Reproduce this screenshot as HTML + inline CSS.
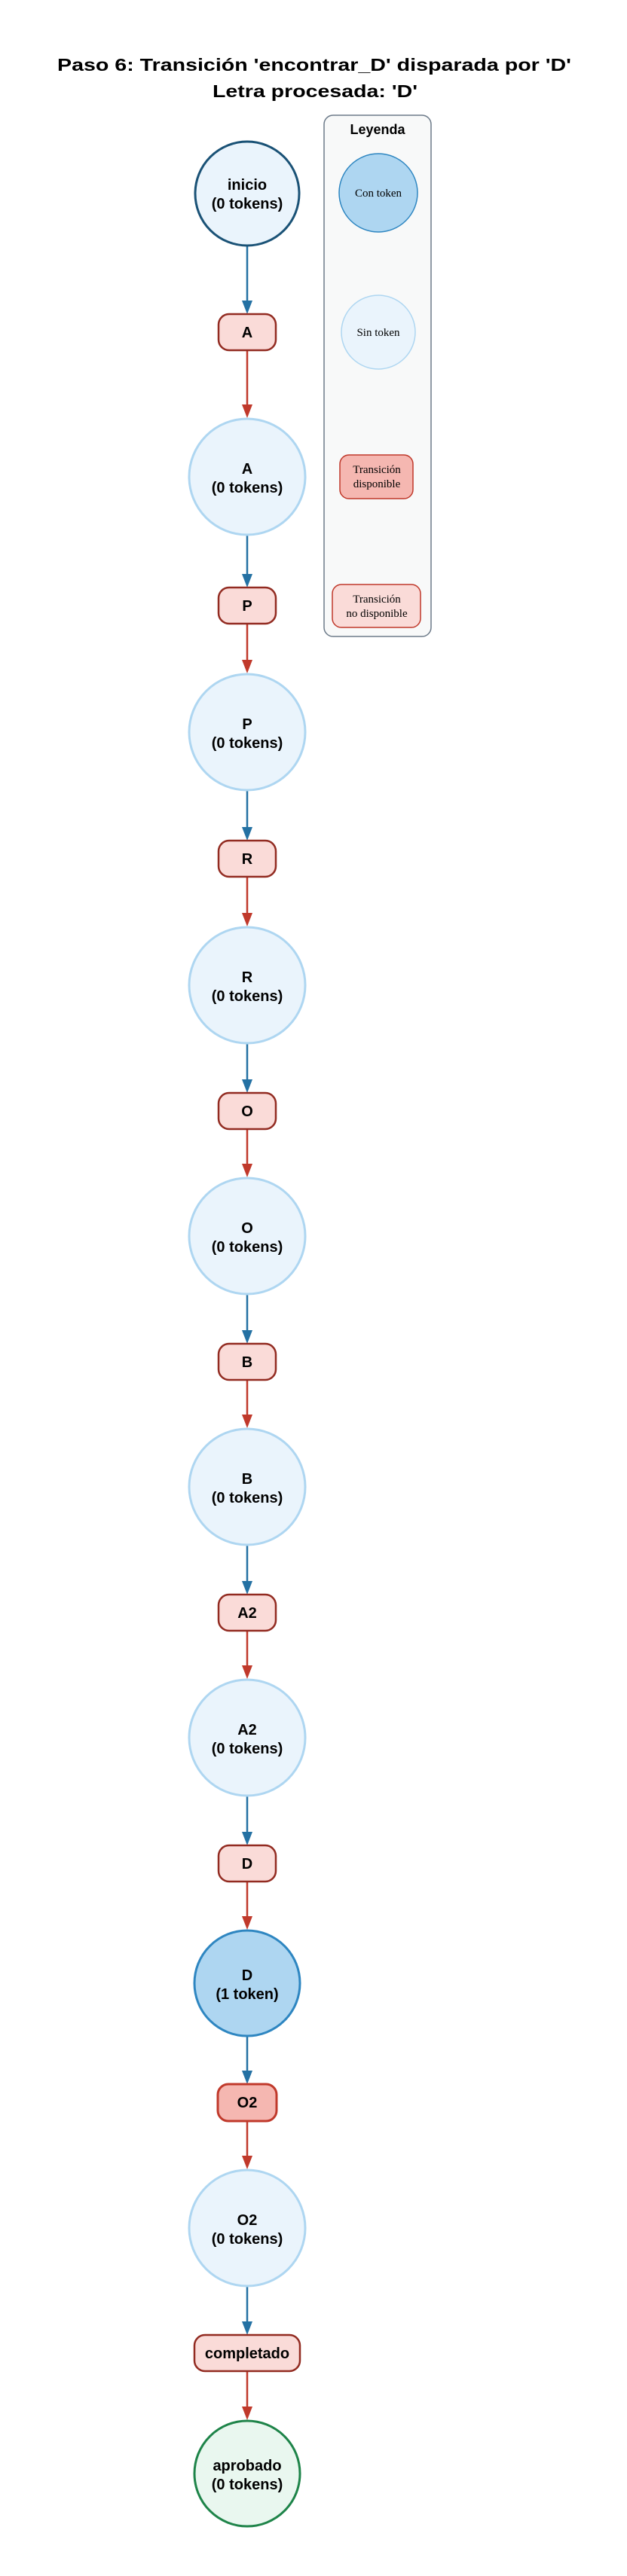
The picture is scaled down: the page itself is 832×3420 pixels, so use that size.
<!DOCTYPE html>
<html><head><meta charset="utf-8"><style>
html,body{margin:0;padding:0;background:#fff;}
svg{display:block;}
.t{font-family:"Liberation Sans",Arial,sans-serif;font-weight:bold;fill:#000;text-anchor:middle;}
.s{font-family:"Liberation Serif","Times New Roman",serif;fill:#000;text-anchor:middle;font-size:15px;}
</style></head><body>
<svg width="832" height="3420" viewBox="0 0 832 3420" xmlns="http://www.w3.org/2000/svg">
<defs>
<marker id="mb" markerWidth="10" markerHeight="10" refX="10" refY="5" orient="auto" markerUnits="userSpaceOnUse" viewBox="0 0 10 10"><path d="M0,0 L10,5 L0,10 z" fill="#2471a3"/></marker>
</defs>
<text class="t" x="417" y="94" font-size="23" textLength="682" lengthAdjust="spacingAndGlyphs">Paso 6: Transición 'encontrar_D' disparada por 'D'</text>
<text class="t" x="418" y="129" font-size="23" textLength="272" lengthAdjust="spacingAndGlyphs">Letra procesada: 'D'</text>

<!-- legend -->
<rect x="430" y="153" width="142" height="692" rx="12" fill="#f8f9f9" stroke="#6c7a89" stroke-width="1.5"/>
<text class="t" x="501" y="178" font-size="18">Leyenda</text>
<circle cx="502" cy="256" r="52" fill="#aed6f1" stroke="#2e86c1" stroke-width="1.5"/>
<text class="s" x="502" y="261">Con token</text>
<circle cx="502" cy="441" r="49" fill="#eaf4fc" stroke="#aed6f1" stroke-width="1.5"/>
<text class="s" x="502" y="446">Sin token</text>
<rect x="451" y="604" width="97" height="58" rx="12" fill="#f5b7b1" stroke="#c0392b" stroke-width="1.5"/>
<text class="s" x="500" y="628">Transición</text>
<text class="s" x="500" y="647">disponible</text>
<rect x="441" y="776" width="117" height="57" rx="12" fill="#fadbd8" stroke="#c0392b" stroke-width="1.5"/>
<text class="s" x="500" y="800">Transición</text>
<text class="s" x="500" y="819">no disponible</text>

<g id="edges" stroke-width="2.5">
<!-- filled below -->
</g>

<!-- arrows -->
<g>
<line x1="328" y1="327" x2="328" y2="400" stroke="#2471a3" stroke-width="2.5"/><path d="M321,399 L335,399 L328,417 z" fill="#2471a3"/>
<line x1="328" y1="465" x2="328" y2="538" stroke="#c0392b" stroke-width="2.5"/><path d="M321,537 L335,537 L328,555 z" fill="#c0392b"/>
<line x1="328" y1="711" x2="328" y2="763" stroke="#2471a3" stroke-width="2.5"/><path d="M321,762 L335,762 L328,780 z" fill="#2471a3"/>
<line x1="328" y1="828" x2="328" y2="877" stroke="#c0392b" stroke-width="2.5"/><path d="M321,876 L335,876 L328,894 z" fill="#c0392b"/>
<line x1="328" y1="1050" x2="328" y2="1099" stroke="#2471a3" stroke-width="2.5"/><path d="M321,1098 L335,1098 L328,1116 z" fill="#2471a3"/>
<line x1="328" y1="1164" x2="328" y2="1213" stroke="#c0392b" stroke-width="2.5"/><path d="M321,1212 L335,1212 L328,1230 z" fill="#c0392b"/>
<line x1="328" y1="1386" x2="328" y2="1434" stroke="#2471a3" stroke-width="2.5"/><path d="M321,1433 L335,1433 L328,1451 z" fill="#2471a3"/>
<line x1="328" y1="1499" x2="328" y2="1546" stroke="#c0392b" stroke-width="2.5"/><path d="M321,1545 L335,1545 L328,1563 z" fill="#c0392b"/>
<line x1="328" y1="1719" x2="328" y2="1767" stroke="#2471a3" stroke-width="2.5"/><path d="M321,1766 L335,1766 L328,1784 z" fill="#2471a3"/>
<line x1="328" y1="1832" x2="328" y2="1879" stroke="#c0392b" stroke-width="2.5"/><path d="M321,1878 L335,1878 L328,1896 z" fill="#c0392b"/>
<line x1="328" y1="2052" x2="328" y2="2100" stroke="#2471a3" stroke-width="2.5"/><path d="M321,2099 L335,2099 L328,2117 z" fill="#2471a3"/>
<line x1="328" y1="2165" x2="328" y2="2212" stroke="#c0392b" stroke-width="2.5"/><path d="M321,2211 L335,2211 L328,2229 z" fill="#c0392b"/>
<line x1="328" y1="2385" x2="328" y2="2433" stroke="#2471a3" stroke-width="2.5"/><path d="M321,2432 L335,2432 L328,2450 z" fill="#2471a3"/>
<line x1="328" y1="2498" x2="328" y2="2545" stroke="#c0392b" stroke-width="2.5"/><path d="M321,2544 L335,2544 L328,2562 z" fill="#c0392b"/>
<line x1="328" y1="2703" x2="328" y2="2750" stroke="#2471a3" stroke-width="2.5"/><path d="M321,2749 L335,2749 L328,2767 z" fill="#2471a3"/>
<line x1="328" y1="2816" x2="328" y2="2863" stroke="#c0392b" stroke-width="2.5"/><path d="M321,2862 L335,2862 L328,2880 z" fill="#c0392b"/>
<line x1="328" y1="3036" x2="328" y2="3083" stroke="#2471a3" stroke-width="2.5"/><path d="M321,3082 L335,3082 L328,3100 z" fill="#2471a3"/>
<line x1="328" y1="3148" x2="328" y2="3196" stroke="#c0392b" stroke-width="2.5"/><path d="M321,3195 L335,3195 L328,3213 z" fill="#c0392b"/>
</g>

<!-- places -->
<circle cx="328" cy="257" r="69" fill="#eaf4fc" stroke="#1a5276" stroke-width="3"/>
<text class="t" x="328" y="252" font-size="20">inicio</text>
<text class="t" x="328" y="277" font-size="20">(0 tokens)</text>

<circle cx="328" cy="633" r="77" fill="#eaf4fc" stroke="#aed6f1" stroke-width="3"/>
<text class="t" x="328" y="629" font-size="20">A</text><text class="t" x="328" y="654" font-size="20">(0 tokens)</text>
<circle cx="328" cy="972" r="77" fill="#eaf4fc" stroke="#aed6f1" stroke-width="3"/>
<text class="t" x="328" y="968" font-size="20">P</text><text class="t" x="328" y="993" font-size="20">(0 tokens)</text>
<circle cx="328" cy="1308" r="77" fill="#eaf4fc" stroke="#aed6f1" stroke-width="3"/>
<text class="t" x="328" y="1304" font-size="20">R</text><text class="t" x="328" y="1329" font-size="20">(0 tokens)</text>
<circle cx="328" cy="1641" r="77" fill="#eaf4fc" stroke="#aed6f1" stroke-width="3"/>
<text class="t" x="328" y="1637" font-size="20">O</text><text class="t" x="328" y="1662" font-size="20">(0 tokens)</text>
<circle cx="328" cy="1974" r="77" fill="#eaf4fc" stroke="#aed6f1" stroke-width="3"/>
<text class="t" x="328" y="1970" font-size="20">B</text><text class="t" x="328" y="1995" font-size="20">(0 tokens)</text>
<circle cx="328" cy="2307" r="77" fill="#eaf4fc" stroke="#aed6f1" stroke-width="3"/>
<text class="t" x="328" y="2303" font-size="20">A2</text><text class="t" x="328" y="2328" font-size="20">(0 tokens)</text>
<circle cx="328" cy="2633" r="70" fill="#aed6f1" stroke="#2e86c1" stroke-width="3"/>
<text class="t" x="328" y="2629" font-size="20">D</text><text class="t" x="328" y="2654" font-size="20">(1 token)</text>
<circle cx="328" cy="2958" r="77" fill="#eaf4fc" stroke="#aed6f1" stroke-width="3"/>
<text class="t" x="328" y="2954" font-size="20">O2</text><text class="t" x="328" y="2979" font-size="20">(0 tokens)</text>
<circle cx="328" cy="3284" r="70" fill="#e9f7ef" stroke="#1e8449" stroke-width="3"/>
<text class="t" x="328" y="3280" font-size="20">aprobado</text><text class="t" x="328" y="3305" font-size="20">(0 tokens)</text>

<!-- transitions -->
<g font-size="20">
<rect x="290" y="417" width="76" height="48" rx="14" fill="#fadbd8" stroke="#922b21" stroke-width="2.5"/><text class="t" x="328" y="448" font-size="20">A</text>
<rect x="290" y="780" width="76" height="48" rx="14" fill="#fadbd8" stroke="#922b21" stroke-width="2.5"/><text class="t" x="328" y="811" font-size="20">P</text>
<rect x="290" y="1116" width="76" height="48" rx="14" fill="#fadbd8" stroke="#922b21" stroke-width="2.5"/><text class="t" x="328" y="1147" font-size="20">R</text>
<rect x="290" y="1451" width="76" height="48" rx="14" fill="#fadbd8" stroke="#922b21" stroke-width="2.5"/><text class="t" x="328" y="1482" font-size="20">O</text>
<rect x="290" y="1784" width="76" height="48" rx="14" fill="#fadbd8" stroke="#922b21" stroke-width="2.5"/><text class="t" x="328" y="1815" font-size="20">B</text>
<rect x="290" y="2117" width="76" height="48" rx="14" fill="#fadbd8" stroke="#922b21" stroke-width="2.5"/><text class="t" x="328" y="2148" font-size="20">A2</text>
<rect x="290" y="2450" width="76" height="48" rx="14" fill="#fadbd8" stroke="#922b21" stroke-width="2.5"/><text class="t" x="328" y="2481" font-size="20">D</text>
<rect x="289" y="2767" width="78" height="49" rx="14" fill="#f5b7b1" stroke="#c0392b" stroke-width="3"/><text class="t" x="328" y="2798" font-size="20">O2</text>
<rect x="258" y="3100" width="140" height="48" rx="14" fill="#fadbd8" stroke="#922b21" stroke-width="2.5"/><text class="t" x="328" y="3131" font-size="20">completado</text>
</g>
</svg>
</body></html>
